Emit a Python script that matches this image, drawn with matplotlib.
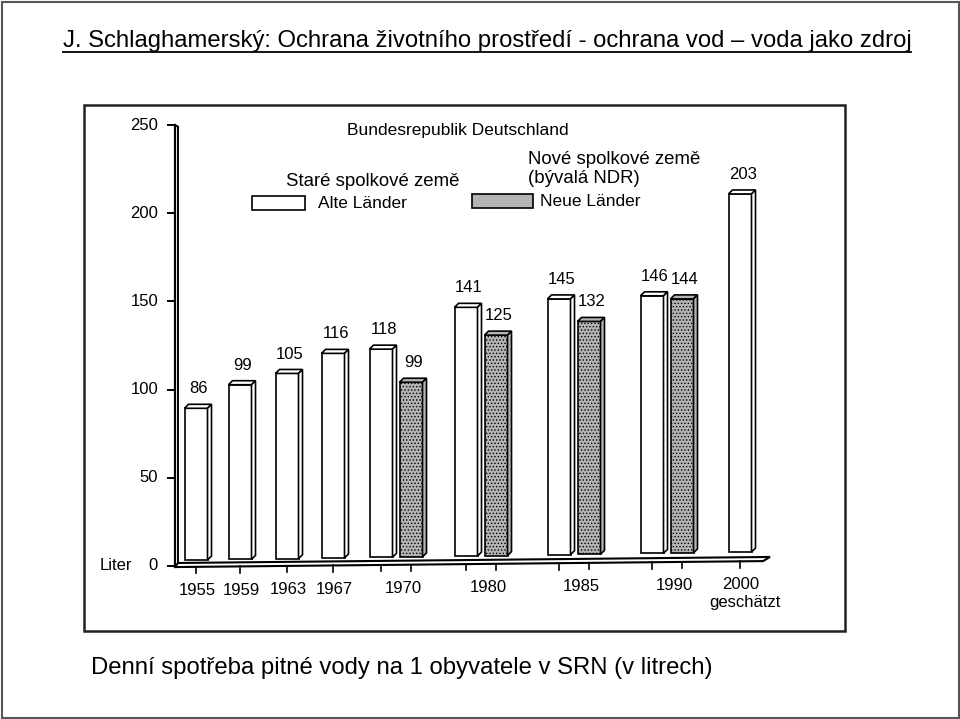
import matplotlib
matplotlib.use("Agg")
import matplotlib.pyplot as plt
from matplotlib.patches import Polygon, Rectangle
from matplotlib.lines import Line2D

# ---------------- data ----------------
years = ["1955", "1959", "1963", "1967", "1970", "1980", "1985", "1990", "2000"]
alte_values = [86, 99, 105, 116, 118, 141, 145, 146, 203]
neue_values = [None, None, None, None, 99, 125, 132, 144, None]
y_ticks = [0, 50, 100, 150, 200, 250]
title_text = "J. Schlaghamerský: Ochrana životního prostředí - ochrana vod – voda jako zdroj"
caption_text = "Denní spotřeba pitné vody na 1 obyvatele v SRN (v litrech)"
chart_title = "Bundesrepublik Deutschland"
alte_label = "Alte Länder"
neue_label = "Neue Länder"
alte_cz = "Staré spolkové země"
neue_cz = "Nové spolkové země\n(bývalá NDR)"
estimate_note = "geschätzt"
unit_label = "Liter"

# ---------------- layout ----------------
W, H = 960, 719
plt.rcParams['font.family'] = ['Liberation Sans', 'DejaVu Sans']
plt.rcParams['hatch.color'] = '#5a5a5a'
plt.rcParams['hatch.linewidth'] = 0.6

fig = plt.figure(figsize=(W / 100, H / 100), dpi=100)
fig.patch.set_facecolor("white")

# outer slide border
fig.add_artist(Rectangle((1.5 / W, 1.5 / H), (W - 3) / W, (H - 3) / H,
                         transform=fig.transFigure, fill=False, ec="#555555", lw=1.5))
# scanned picture frame
fx0, fy0, fx1, fy1 = 84, 105, 845, 631
fig.add_artist(Rectangle((fx0 / W, 1 - fy1 / H), (fx1 - fx0) / W, (fy1 - fy0) / H,
                         transform=fig.transFigure, fill=False, ec="#222222", lw=1.8))

# plot axes: x units ~ pixels from the y-axis wall, y in litres
ax_left, ax_right, y0px, y250px = 175, 775, 566, 125
ax = fig.add_axes([ax_left / W, 1 - y0px / H, (ax_right - ax_left) / W, (y0px - y250px) / H])
ax.set_xlim(0, ax_right - ax_left)
ax.set_ylim(0, 250)
ax.axis("off")
ppu = (y0px - y250px) / 250.0  # pixels per litre

group_x = [21, 65, 112, 158, 221, 306, 399, 492, 565]
pair_gap = 15
bar_w = 23
dx, dy = 4, 4 / ppu
floor_len = 592


def bar_base(x):
    return 3.4 + (x - 21) * (4.5 / 544)


def floor_top(x):
    return 1.7 + x * (3.4 / floor_len)


def floor_bot(x):
    return -0.6 + x * (3.4 / floor_len)


gray = "#b4b4b4"
lw = 1.2
fs = 12

# floor band
ax.add_patch(Polygon([(0, floor_bot(0)), (3, floor_top(3)), (floor_len + 3, floor_top(floor_len + 3)),
                      (floor_len - 4, floor_bot(floor_len - 4))], closed=True,
                     fc="white", ec="black", lw=1.5, clip_on=False, zorder=2))

# y wall
ax.add_line(Line2D([0, 0], [floor_bot(0), 250], color="black", lw=1.6, clip_on=False))
ax.add_line(Line2D([3, 3], [floor_top(3), 249], color="black", lw=1.4, clip_on=False))
for t in y_ticks:
    ax.add_line(Line2D([-7, 0], [t, t], color="black", lw=1.4, clip_on=False))
    ax.text(-17, t, str(t), ha="right", va="center", fontsize=fs, clip_on=False)
ax.add_line(Line2D([0, 3], [250, 249], color="black", lw=1.4, clip_on=False))
ax.text(-43, 0, unit_label, ha="right", va="center", fontsize=fs, clip_on=False)


def draw_bar(xc, val, fc, hatch=None):
    b = bar_base(xc)
    ax.bar([xc], [val], bottom=[b], width=bar_w, color=fc, edgecolor="black", lw=lw,
           hatch=hatch, zorder=3)
    top = b + val
    xl, xr = xc - bar_w / 2, xc + bar_w / 2
    ax.add_patch(Polygon([(xl, top), (xl + dx, top + dy), (xr + dx, top + dy), (xr, top)],
                         closed=True, fc=fc, ec="black", lw=lw, zorder=3))
    ax.add_patch(Polygon([(xr, b), (xr + dx, b + dy), (xr + dx, top + dy), (xr, top)],
                         closed=True, fc=fc, ec="black", lw=lw, zorder=3))
    ax.text(xc + 3, top + dy + 4.5, str(val), ha="center", va="bottom", fontsize=fs,
            zorder=4, clip_on=False)
    ax.add_line(Line2D([xc, xc], [floor_bot(xc), floor_bot(xc) - 3.6], color="black",
                       lw=1.2, clip_on=False))


for i, yr in enumerate(years):
    gx = group_x[i]
    if neue_values[i] is None:
        draw_bar(gx, alte_values[i], "white")
        lx = gx
    else:
        draw_bar(gx - pair_gap, alte_values[i], "white")
        draw_bar(gx + pair_gap, neue_values[i], gray, hatch=".....")
        lx = gx + 6
    ax.text(lx + 1, -14.3 + gx * (3.4 / 544), yr, ha="center", va="center", fontsize=fs,
            clip_on=False)
ax.text(group_x[-1] + 5, -20.8, estimate_note, ha="center", va="center", fontsize=fs,
        clip_on=False)


# chart title & legend (figure pixel coordinates)
def ftext(x, y, s, **kw):
    return fig.text(x / W, 1 - y / H, s, **kw)


ftext(458, 130, chart_title, ha="center", va="center", fontsize=12.5)
ftext(373, 181, alte_cz, ha="center", va="center", fontsize=13.4)
ftext(528, 169, neue_cz, ha="left", va="center", fontsize=13.4, linespacing=1.15)
fig.add_artist(Rectangle((252 / W, 1 - 210 / H), 53 / W, 14 / H, transform=fig.transFigure,
                         fc="white", ec="black", lw=1.2))
ftext(318, 204, alte_label, ha="left", va="center", fontsize=12.5)
fig.add_artist(Rectangle((472 / W, 1 - 208 / H), 61 / W, 14 / H, transform=fig.transFigure,
                         fc=gray, ec="black", lw=1.2))
ftext(540, 202, neue_label, ha="left", va="center", fontsize=12.5)

# slide title and caption, sized to the reference widths
t = ftext(487, 47, title_text, ha="center", va="baseline", fontsize=19)
c = ftext(401.5, 674, caption_text, ha="center", va="baseline", fontsize=19)
fig.canvas.draw()
r = fig.canvas.get_renderer()
for txt, target in ((t, 850), (c, 623)):
    w = txt.get_window_extent(r).width
    txt.set_fontsize(19 * target / w)
fig.canvas.draw()
bb = t.get_window_extent(r)
fig.add_artist(Line2D([bb.x0 / W, bb.x1 / W], [1 - 52 / H, 1 - 52 / H],
                      transform=fig.transFigure, color="black", lw=1.3))

fig.savefig("out.png", dpi=100, facecolor="white")
